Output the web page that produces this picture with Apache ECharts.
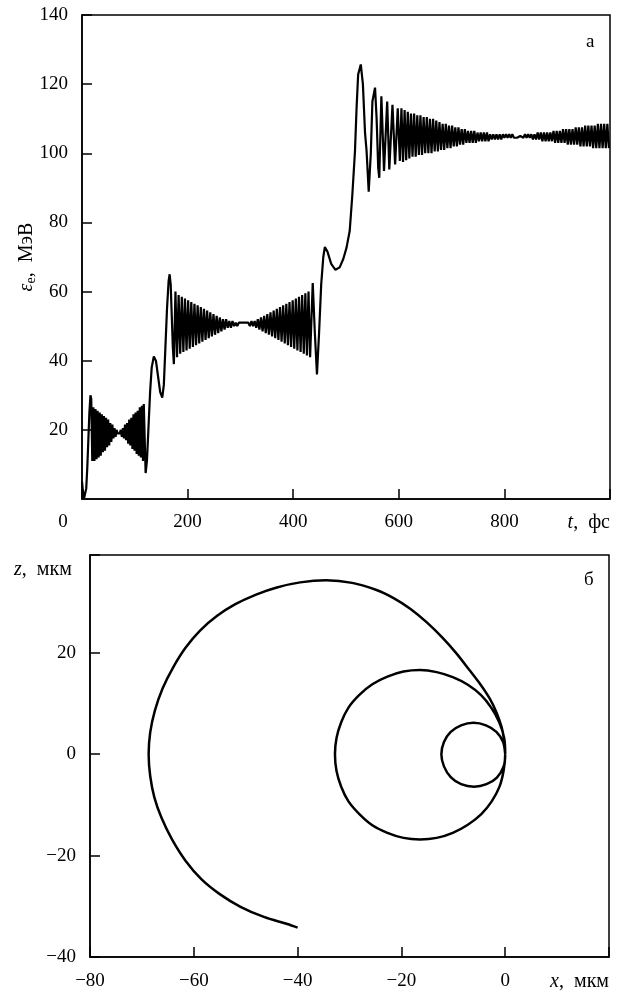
<!DOCTYPE html>
<html>
<head>
<meta charset="utf-8">
<script src="https://cdn.jsdelivr.net/npm/echarts@6/dist/echarts.min.js"></script>
<style>
html, body { margin: 0; padding: 0; background: #fff; }
#main { width: 621px; height: 994px; }
</style>
</head>
<body>
<div id="main"></div>
<script>
// --- panel a: electron energy (MeV) vs time (fs) ---
// smooth stretches as [t, e]
const startPts = [[0, 5], [2, 2], [4, 0.3], [6, 0.2], [8, 3], [10, 9], [12, 17], [14, 25], [16, 30], [17.5, 29], [19.5, 11]]
// fast oscillation 1, t from 21.5 fs every 2 fs
const osc1Start = 21.5
const osc1Step = 2
const osc1 = [26.5, 11, 26, 11.5, 25.5, 12, 25, 12.5, 24.5, 13.5, 24, 14, 23.5, 15, 23, 15.5, 22, 16.5, 21.5, 17.5,
  20.5, 18, 20, 19, 19.5, 19, 20, 18, 20.5, 17.5, 21.5, 17, 22, 16, 23, 15.5, 23.5, 14.5, 24.5, 14,
  25, 13, 25.5, 12.5, 26.5, 12, 27, 11]
const climb1 = [[117, 27.5], [120.5, 7.5], [123, 11], [126, 21], [129, 31], [132, 38], [136, 41.2], [140, 40], [144, 35.5],
  [148, 31], [152, 29.3], [155, 33], [158, 44], [161, 55], [164, 63], [166, 65], [168, 62], [170, 53], [172, 44], [174, 39]]
// fast oscillation 2, t from 177 fs every 3 fs
const osc2Start = 177
const osc2Step = 3
const osc2 = [60, 41, 59, 42, 58.5, 42.5, 58, 43, 57.5, 43.5, 57, 44, 56.5, 44.5, 56, 45, 55.5, 45.5, 55, 46,
  54.5, 46.5, 54, 47, 53.5, 47.5, 53, 48, 52.5, 48.5, 52, 49, 52, 49.5, 51.5, 49.5, 51.5, 50, 51, 50,
  51, 50.5, 51, 50.5, 51, 50.5, 51, 50, 51.5, 50, 51.5, 49.5, 52, 49, 52.5, 48.5, 53, 48, 53.5, 47.5,
  54, 47, 54.5, 46.5, 55, 46, 55.5, 45.5, 56, 45, 56.5, 44.5, 57, 44, 57.5, 43.5, 58, 43, 58.5, 42.5,
  59, 42, 59.5, 41.5, 60, 41]
const climb2 = [[437, 62.5], [441, 48], [445, 36], [449, 48], [453, 62], [457, 70], [460, 72.9], [465, 71.5], [472, 68],
  [480, 66.3], [488, 67], [495, 69.5], [501, 72.7], [507, 77.5], [512, 88], [517, 100.6], [520, 113], [523, 122.8],
  [528, 125.7], [532, 120], [536, 106], [539, 100.6], [543, 88.9], [547, 100], [550, 115], [555, 119], [558, 110],
  [561, 95.8], [563, 92.9], [567, 116.5], [572, 94.9], [578, 115], [582, 95.3], [588, 114], [593, 96.8], [598, 113], [602, 97.8]]
// fast oscillation 3, t from 605 fs every 3 fs
const osc3Start = 605
const osc3Step = 3
const osc3 = [113, 97.5, 112.5, 98, 112, 98.5, 111.5, 99, 111.5, 99, 111, 99.5, 111, 99.5, 110.5, 100, 110.5, 100, 110, 100,
  110, 100.5, 109.5, 100.5, 109, 101, 108.5, 101, 108.5, 101.5, 108, 101.5, 108, 102, 107.5, 102, 107.5, 102.5, 107, 102.5,
  107, 103, 106.5, 103, 106.5, 103, 106.5, 103, 106, 103.5, 106, 103.5, 106, 103.5, 106, 103.5, 105.5, 104, 105.5, 104,
  105.5, 104, 105.5, 104, 105.5, 104.5, 105.5, 104.5, 105.5, 104.5, 105.5, 104.5, 105, 104.5, 105, 105, 105.5, 104.5, 105.5, 104.5,
  105.5, 104.5, 105.5, 104, 105.5, 104, 106, 104, 106, 103.5, 106, 103.5, 106, 103.5, 106, 103.5, 106.5, 103, 106.5, 103,
  106.5, 103, 107, 103, 107, 102.5, 107, 102.5, 107, 102.5, 107.5, 102.5, 107.5, 102, 107.5, 102, 108, 102, 108, 102,
  108, 101.5, 108, 101.5, 108.5, 101.5, 108.5, 101.5, 108.5, 101.5, 108.5, 101.5]

const xTicksA = [0, 1000, 200]   // min, max, step
const yTicksA = [0, 140, 20]

// --- panel b: trajectory z (um) vs x (um) ---
const smallLoop = [[0, 0], [-0.4, 2.4], [-1.7, 4.4], [-3.7, 5.7], [-6.1, 6.2], [-8.5, 5.7], [-10.5, 4.4], [-11.8, 2.4], [-12.3, 0],
  [-11.8, -2.4], [-10.5, -4.5], [-8.5, -5.9], [-6, -6.4], [-3.6, -5.9], [-1.6, -4.6], [-0.3, -2.4]]
const midLoop = [[0, 0], [-0.2, 3.2], [-1.15, 6.3], [-2.7, 9.2], [-4.7, 11.7], [-7.2, 13.7], [-10.1, 15.2], [-13.2, 16.2], [-16.4, 16.6],
  [-19.6, 16.3], [-22.7, 15.3], [-25.6, 13.8], [-28.1, 11.7], [-30.2, 9.2], [-31.6, 6.3], [-32.5, 3.2], [-32.8, 0],
  [-32.5, -3.3], [-31.6, -6.4], [-30.2, -9.3], [-28.1, -11.8], [-25.6, -14], [-22.7, -15.5], [-19.6, -16.5], [-16.4, -16.8],
  [-13.2, -16.5], [-10.1, -15.5], [-7.2, -13.9], [-4.6, -11.8], [-2.6, -9.3], [-1.1, -6.4], [-0.3, -3.2]]
const bigArc = [[0, 0], [-0.2, 2.7], [-0.7, 5.4], [-1.7, 8.3], [-3, 11], [-4.8, 13.8], [-6.9, 16.6], [-9.4, 19.9], [-12.1, 23],
  [-15.1, 26], [-18.3, 28.7], [-21.5, 30.8], [-24.8, 32.4], [-29.5, 33.8], [-34.5, 34.3], [-39.5, 33.9], [-44, 32.9],
  [-48, 31.5], [-52, 29.6], [-55.5, 27.3], [-58.8, 24.4], [-61.6, 21], [-64, 17.1], [-66, 13], [-67.5, 8.6], [-68.4, 4.3],
  [-68.7, 0], [-68.4, -4.3], [-67.6, -8.5], [-66.2, -12.6], [-64.2, -16.8], [-61.6, -21], [-58.5, -24.7], [-55, -27.6],
  [-51, -30.1], [-46.5, -32.1], [-42, -33.5], [-40, -34.2]]

const xTicksB = [-80, 20, 20]
const yTicksB = [-40, 39.3, 20]

const serif = 'Liberation Serif'
const ink = '#000'
const fs = 19
const fsName = 20

const oscPairs = (t0, step, vals) => vals.map((v, i) => [t0 + i * step, v])

const energy = [].concat(
  startPts,
  oscPairs(osc1Start, osc1Step, osc1),
  climb1,
  oscPairs(osc2Start, osc2Step, osc2),
  climb2,
  oscPairs(osc3Start, osc3Step, osc3)
)
const path = [].concat(smallLoop, midLoop, bigArc)

const minus = v => (v < 0 ? '\u2212' + Math.abs(v) : String(v))

const axisLine = { onZero: false, lineStyle: { color: ink, width: 1.5 } }
const axisTick = { inside: true, length: 10, lineStyle: { color: ink, width: 1.5 } }
const labelBase = { fontFamily: serif, fontSize: fs, color: ink }
const italic = { fontFamily: serif, fontSize: fsName, color: ink, fontStyle: 'italic' }
const plain = { fontFamily: serif, fontSize: fsName, color: ink }

const chart = echarts.init(document.getElementById('main'))
chart.setOption({
  animation: false,
  backgroundColor: '#fff',
  grid: [
    { left: 82, top: 15, right: 11, bottom: 495, show: true, borderColor: ink, borderWidth: 1.5 },
    { left: 90, top: 555, right: 12, bottom: 37, show: true, borderColor: ink, borderWidth: 1.5 }
  ],
  xAxis: [
    {
      type: 'value', gridIndex: 0,
      min: xTicksA[0], max: xTicksA[1], interval: xTicksA[2],
      axisLine, axisTick, splitLine: { show: false },
      axisLabel: Object.assign({}, labelBase, {
        margin: 14,
        alignMaxLabel: 'right',
        formatter: v => (v === 0 ? '{z|0}' : v === 1000 ? '{i|t}{n|,  фс}' : String(v)),
        rich: {
          z: { fontFamily: serif, fontSize: fs, color: ink, padding: [0, 38, 0, 0] },
          i: italic,
          n: plain
        }
      })
    },
    {
      type: 'value', gridIndex: 1,
      min: xTicksB[0], max: xTicksB[1], interval: xTicksB[2],
      axisLine, axisTick, splitLine: { show: false },
      axisLabel: Object.assign({}, labelBase, {
        margin: 15,
        alignMaxLabel: 'right',
        formatter: v => (v === 20 ? '{i|x}{n|,  мкм}' : minus(v)),
        rich: { i: italic, n: plain }
      })
    }
  ],
  yAxis: [
    {
      type: 'value', gridIndex: 0,
      min: yTicksA[0], max: yTicksA[1], interval: yTicksA[2],
      axisLine, axisTick, splitLine: { show: false },
      axisLabel: Object.assign({}, labelBase, { margin: 14, showMinLabel: false }),
      name: '{e|ε}{s|e}{n|,  МэВ}',
      nameLocation: 'middle',
      nameRotate: 90,
      nameGap: 44,
      nameMoveOverlap: false,
      nameTextStyle: {
        fontFamily: serif, fontSize: fsName, color: ink,
        rich: {
          e: italic,
          s: { fontFamily: serif, fontSize: 14, color: ink, padding: [9, 0, 0, 0] },
          n: plain
        }
      }
    },
    {
      type: 'value', gridIndex: 1,
      min: yTicksB[0], max: yTicksB[1], interval: yTicksB[2],
      axisLine, axisTick, splitLine: { show: false },
      axisLabel: Object.assign({}, labelBase, {
        margin: 14,
        formatter: v => (v % 20 !== 0 ? '' : minus(v))
      })
    }
  ],
  graphic: [
    { type: 'text', left: 586, top: 33, style: { text: 'а', font: fs + 'px "Liberation Serif"', fill: ink } },
    { type: 'text', left: 584, top: 571, style: { text: 'б', font: fs + 'px "Liberation Serif"', fill: ink } },
    {
      type: 'text', left: 14, top: 560,
      style: {
        text: '{i|z}{n|,  мкм}', font: fsName + 'px "Liberation Serif"', fill: ink,
        rich: {
          i: { fontFamily: serif, fontSize: fsName, fontStyle: 'italic', fill: ink },
          n: { fontFamily: serif, fontSize: fsName, fill: ink }
        }
      }
    }
  ],
  series: [
    {
      type: 'line', xAxisIndex: 0, yAxisIndex: 0,
      data: energy, showSymbol: false, symbol: 'none', sampling: null,
      lineStyle: { color: ink, width: 2.2 }
    },
    {
      type: 'line', xAxisIndex: 1, yAxisIndex: 1,
      data: path, showSymbol: false, symbol: 'none', smooth: 0.3,
      lineStyle: { color: ink, width: 2.5 }
    }
  ]
})
</script>
</body>
</html>
